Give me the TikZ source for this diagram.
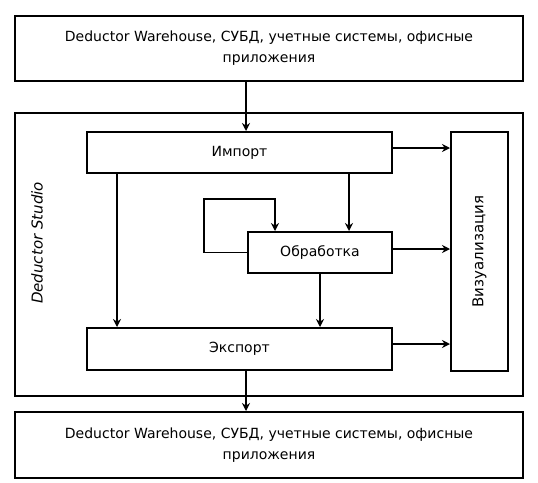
\documentclass[tikz,border=0pt]{standalone}
\usepackage{fontspec}
\setmainfont{DejaVu Sans}
\usetikzlibrary{arrows.meta}

\tikzset{
    block/.style={draw, line width=2pt, inner sep=0pt, align=center, font=\fontsize{14}{21}\selectfont},
    arr/.style={line width=1.8pt, ->, >={Stealth[length=8pt, width=8pt]}},
}

\begin{document}
\begin{tikzpicture}[x=1pt, y=-1pt]
    \useasboundingbox (0,0) rectangle (538,482);

    \node[block, minimum width=508pt, minimum height=65pt] (src) at (269,48.5)
        {Deductor Warehouse, СУБД, учетные системы, офисные\\приложения};
    \node[block, minimum width=508pt, minimum height=283pt] (studio) at (269,254.5) {};
    \node[block, minimum width=508pt, minimum height=66pt] (dst) at (269,445)
        {Deductor Warehouse, СУБД, учетные системы, офисные\\приложения};

    \node[block, minimum width=305pt, minimum height=41pt] (imp) at (239.5,152.5) {Импорт};
    \node[block, minimum width=144pt, minimum height=41pt] (proc) at (320,252.5) {Обработка};
    \node[block, minimum width=305pt, minimum height=42pt] (exp) at (239.5,349) {Экспорт};
    \node[block, minimum width=57pt, minimum height=239pt] (vis) at (479.5,251.5) {};
    \node[rotate=90, font=\fontsize{15}{18}\selectfont] (vislabel) at (vis.center) {Визуализация};
    \node[rotate=90, font=\itshape\fontsize{15}{18}\selectfont] (studiolabel) at (37,243) {Deductor Studio};

    \coordinate (c246) at (246,0);
    \coordinate (c117) at (117,0);
    \coordinate (c349) at (349,0);
    \coordinate (c320) at (320,0);
    \coordinate (c275) at (275,0);
    \coordinate (loop) at (204,199);

    \draw[arr] (c246 |- src.south)--(c246 |- imp.north);
    \draw[arr] (c246 |- exp.south)--(c246 |- dst.north);

    \draw[arr] (c117 |- imp.south)--(c117 |- exp.north);
    \draw[arr] (c349 |- imp.south)--(c349 |- proc.north);
    \draw[arr] (c320 |- proc.south)--(c320 |- exp.north);
    \draw[arr] (proc.west) -| (loop) -| (c275 |- proc.north);

    \draw[arr] (imp.east |- 0,148)--(vis.west |- 0,148);
    \draw[arr] (proc.east |- 0,249)--(vis.west |- 0,249);
    \draw[arr] (exp.east |- 0,344)--(vis.west |- 0,344);
\end{tikzpicture}
\end{document}
